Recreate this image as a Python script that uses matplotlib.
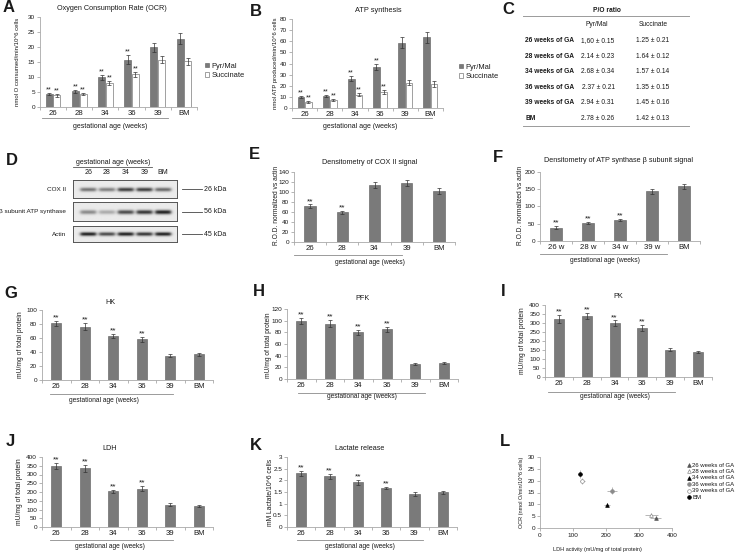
import numpy as np
import matplotlib
matplotlib.use('Agg')
import matplotlib.pyplot as plt
from matplotlib.lines import Line2D
from matplotlib.patches import Patch

plt.rcParams['font.family'] = ['Liberation Sans', 'DejaVu Sans']

# ---------------- data ----------------
ga6 = ['26', '28', '34', '36', '39', 'BM']
sig6 = [1, 1, 1, 1, 0, 0]

ocr_pyr = [4.3, 5.3, 9.9, 15.8, 19.9, 22.8]
ocr_pyr_err = [0.4, 0.5, 0.8, 1.4, 1.4, 1.8]
ocr_suc = [4.0, 4.3, 8.0, 10.9, 15.8, 15.2]
ocr_suc_err = [0.5, 0.4, 0.8, 0.9, 1.2, 1.2]

atp_pyr = [9.9, 10.8, 26.5, 37.0, 58.6, 63.5]
atp_pyr_err = [1.0, 1.0, 2.0, 3.0, 5.0, 5.0]
atp_suc = [5.1, 6.9, 12.0, 14.4, 22.9, 21.4]
atp_suc_err = [0.8, 0.8, 1.5, 1.5, 2.5, 2.5]

po_rows = ['26 weeks of GA', '28 weeks of GA', '34 weeks of GA',
           '36 weeks of GA', '39 weeks of GA', 'BM']
po_pyr = ['1,60 ± 0.15', '2.14 ± 0.23', '2.68 ± 0.34',
          '2.37 ± 0.21', '2.94 ± 0.31', '2.78 ± 0.26']
po_suc = ['1.25 ± 0.21', '1.64 ± 0.12', '1.57 ± 0.14',
          '1.35 ± 0.15', '1.45 ± 0.16', '1.42 ± 0.13']

blot_lanes = ['26', '28', '34', '39', 'BM']
blot_names = ['COX II', 'β subunit ATP synthase', 'Actin']
blot_kda = ['26 kDa', '56 kDa', '45 kDa']
band_cox = [0.55, 0.5, 0.8, 0.8, 0.6]
band_atps = [0.45, 0.3, 0.75, 0.85, 0.95]
band_actin = [0.95, 0.75, 0.95, 0.85, 0.95]

cox_lanes = ['26', '28', '34', '39', 'BM']
cox = [71, 59, 113, 118, 101]
cox_err = [4, 3, 6, 6, 6]
cox_sig = [1, 1, 0, 0, 0]

atps_lanes = ['26 w', '28 w', '34 w', '39 w', 'BM']
atps = [39, 53, 61, 144, 159]
atps_err = [4, 3, 4, 7, 7]
atps_sig = [1, 1, 1, 0, 0]

hk = [81, 76, 63, 58, 35, 37]
hk_err = [4, 5, 3, 3, 2, 2]
pfk = [99, 95, 80, 85, 26, 27]
pfk_err = [5, 6, 4, 4, 1.5, 1.5]
pk = [322, 339, 300, 273, 151, 140]
pk_err = [20, 18, 14, 17, 9, 6]
ldh = [350, 337, 203, 218, 128, 122]
ldh_err = [17, 20, 8, 15, 7, 6]
lac = [2.30, 2.17, 1.91, 1.67, 1.41, 1.49]
lac_err = [0.12, 0.10, 0.10, 0.06, 0.07, 0.07]

l_labels = ['26 weeks of GA', '28 weeks of GA', '34 weeks of GA',
            '36 weeks of GA', '39 weeks of GA', 'BM']

# ---------------- styling ----------------
W, H = 738, 555
BAR = '#7a7a7a'
BAR_EDGE = '#5a5a5a'
AX = '#a8a8a8'
TXT = '#1a1a1a'
ERR = '#333333'

fig = plt.figure(figsize=(W / 100, H / 100), dpi=100)


def px_axes(l, t, r, b):
    return fig.add_axes([l / W, 1 - b / H, (r - l) / W, (b - t) / H])


def ftext(x, y, s, **kw):
    kw.setdefault('color', TXT)
    kw.setdefault('ha', 'center')
    kw.setdefault('va', 'center')
    fig.text(x / W, 1 - y / H, s, **kw)


def fline(x0, x1, y, color='#8a8a8a', lw=0.6):
    fig.add_artist(Line2D([x0 / W, x1 / W], [1 - y / H, 1 - y / H],
                          color=color, lw=lw))


def style_axes(ax, cats, ymax, ystep, labels=None):
    n = len(cats)
    ax.set_xlim(-0.5, n - 0.5)
    ax.set_ylim(0, ymax)
    ticks = np.arange(0, ymax + ystep / 2, ystep)
    ax.set_yticks(ticks)
    if labels is not None:
        ax.set_yticklabels(labels)
    ax.set_xticks(range(n))
    ax.set_xticklabels(cats)
    ax.set_xticks(np.arange(-0.5, n), minor=True)
    ax.tick_params(axis='x', which='major', length=0, labelsize=5.6, pad=2.5,
                   labelcolor=TXT)
    ax.tick_params(axis='x', which='minor', length=2.5, color=AX, width=0.6)
    ax.tick_params(axis='y', length=2, color=AX, width=0.6, labelsize=4.6,
                   pad=1.5, labelcolor=TXT)
    for s in ['top', 'right']:
        ax.spines[s].set_visible(False)
    for s in ['left', 'bottom']:
        ax.spines[s].set_color(AX)
        ax.spines[s].set_linewidth(0.6)


def stars(ax, x, vals, errs, sig, size=6):
    for xi, v, e, s in zip(x, vals, errs, sig):
        if s:
            ax.annotate('**', (xi, v + e), xytext=(0, -0.3),
                        textcoords='offset points', ha='center', va='bottom',
                        fontsize=size, color=TXT)


ekw = dict(ecolor=ERR, elinewidth=0.5, capsize=1.2, capthick=0.5)


def single_bars(box, cats, vals, errs, sig, ymax, ystep, labels=None):
    ax = px_axes(*box)
    x = np.arange(len(cats))
    ax.bar(x, vals, width=0.36, color=BAR, edgecolor=BAR_EDGE, linewidth=0.4,
           yerr=errs, error_kw=ekw)
    stars(ax, x, vals, errs, sig)
    style_axes(ax, cats, ymax, ystep, labels)
    return ax


def paired_bars(box, cats, v1, e1, v2, e2, ymax, ystep, leg_xy):
    ax = px_axes(*box)
    x = np.arange(len(cats))
    ax.bar(x - 0.145, v1, width=0.27, color=BAR, edgecolor=BAR_EDGE,
           linewidth=0.4, yerr=e1, error_kw=ekw)
    ax.bar(x + 0.145, v2, width=0.27, color='white', edgecolor='#7a7a7a',
           linewidth=0.5, yerr=e2, error_kw=ekw)
    stars(ax, x - 0.15, v1, e1, sig6, size=5.2)
    stars(ax, x + 0.15, v2, e2, sig6, size=5.2)
    style_axes(ax, cats, ymax, ystep)
    handles = [Patch(facecolor=BAR, edgecolor=BAR_EDGE, linewidth=0.4),
               Patch(facecolor='white', edgecolor='#7a7a7a', linewidth=0.5)]
    ax.legend(handles, ['Pyr/Mal', 'Succinate'], loc='center left',
              bbox_to_anchor=(leg_xy[0] / W, 1 - leg_xy[1] / H),
              bbox_transform=fig.transFigure, frameon=False, fontsize=5.4,
              handlelength=0.6, handleheight=0.6, handletextpad=0.3,
              labelspacing=0.35, borderpad=0, labelcolor=TXT)
    return ax


# ---------------- A ----------------
paired_bars((40, 17, 197, 107), ga6, ocr_pyr, ocr_pyr_err, ocr_suc, ocr_suc_err,
            30, 5, (201, 71))
ftext(9, 8, 'A', fontsize=12, fontweight='bold')
ftext(112, 8, 'Oxygen Consumption Rate (OCR)', fontsize=5.2)
ftext(18, 62, 'nmol O consumed/min/10^6 cells', fontsize=4.3, rotation=90)
fline(42, 168, 118)
ftext(110, 126, 'gestational age (weeks)', fontsize=5)

# ---------------- B ----------------
paired_bars((292, 19, 443, 108), ga6, atp_pyr, atp_pyr_err, atp_suc, atp_suc_err,
            80, 10, (455, 72))
ftext(256, 12, 'B', fontsize=12, fontweight='bold')
ftext(378, 10, 'ATP synthesis', fontsize=5.3)
ftext(276, 63, 'nmol ATP produced/min/10^6 cells', fontsize=4.3, rotation=90)
fline(292, 432, 118)
ftext(360, 127, 'gestational age (weeks)', fontsize=5)

# ---------------- C (table) ----------------
ftext(508, 10, 'C', fontsize=12, fontweight='bold')
ftext(607, 10, 'P/O ratio', fontsize=4.8, fontweight='bold')
fline(523, 689, 16, color='#9a9a9a', lw=0.7)
ftext(597, 25, 'Pyr/Mal', fontsize=4.8)
ftext(653, 25, 'Succinate', fontsize=4.8)
for i, (lab, a, b) in enumerate(zip(po_rows, po_pyr, po_suc)):
    yy = 41 + i * 15.4
    ftext(525, yy, lab, fontsize=4.8, fontweight='bold', ha='left')
    ftext(598, yy, a, fontsize=4.8)
    ftext(653, yy, b, fontsize=4.8)
fline(523, 689, 126, color='#9a9a9a', lw=0.7)

# ---------------- D (western blot) ----------------
ftext(12, 161, 'D', fontsize=12, fontweight='bold')
ftext(113, 163, 'gestational age (weeks)', fontsize=5)
fline(73, 152, 167, color='#555555', lw=0.6)
lane_pos = np.linspace(0.145, 0.865, len(blot_lanes))
blot_boxes = [(73, 180, 177, 198), (73, 202, 177, 221), (73, 226, 177, 242)]
bands = [band_cox, band_atps, band_actin]
for k, (bx, name, kda, inten) in enumerate(zip(blot_boxes, blot_names,
                                               blot_kda, bands)):
    ax = px_axes(*bx)
    ny, nx = 40, 220
    yy, xx = np.mgrid[0:ny, 0:nx]
    img = np.full((ny, nx), 0.92)
    for p, v in zip(lane_pos, inten):
        cx = p * nx
        prof_x = 1 / (1 + np.exp((np.abs(xx - cx) - 0.075 * nx) / 2.0))
        prof_y = np.exp(-((yy - 0.52 * ny) / (0.11 * ny)) ** 2)
        img = img - 0.85 * v * prof_x * prof_y
    ax.imshow(np.clip(img, 0, 1), cmap='gray', vmin=0, vmax=1,
              aspect='auto', extent=[0, 1, 0, 1], interpolation='bilinear')
    ax.set_xticks([])
    ax.set_yticks([])
    for s in ax.spines.values():
        s.set_color('#555555')
        s.set_linewidth(0.7)
    ym = (bx[1] + bx[3]) / 2
    ftext(66, ym, name, fontsize=4.6, ha='right')
    fline(182, 202, ym, color='#444444', lw=0.6)
    ftext(204, ym, kda, fontsize=5, ha='left')
    if k == 0:
        for p, lab in zip(lane_pos, blot_lanes):
            ftext(bx[0] + p * (bx[2] - bx[0]), 173, lab, fontsize=5)

# ---------------- E ----------------
single_bars((294, 172, 455, 242), cox_lanes, cox, cox_err, cox_sig, 140, 20)
ftext(254, 154, 'E', fontsize=12, fontweight='bold')
ftext(370, 163, 'Densitometry of COX II signal', fontsize=5.2)
ftext(276, 205, 'R.O.D. normalized vs actin', fontsize=4.8, rotation=90)
fline(294, 402, 255)
ftext(370, 262, 'gestational age (weeks)', fontsize=4.8)

# ---------------- F ----------------
single_bars((540, 172, 700, 241), atps_lanes, atps, atps_err, atps_sig, 200, 50)
ftext(498, 158, 'F', fontsize=12, fontweight='bold')
ftext(618, 161, 'Densitometry of ATP synthase β subunit signal', fontsize=5.2)
ftext(521, 205, 'R.O.D. normalized vs actin', fontsize=4.8, rotation=90)
fline(540, 667, 254)
ftext(605, 260, 'gestational age (weeks)', fontsize=4.8)

# ---------------- G ----------------
single_bars((42, 310, 213, 380), ga6, hk, hk_err, sig6, 100, 20)
ftext(11, 293, 'G', fontsize=12, fontweight='bold')
ftext(110, 302, 'HK', fontsize=5.2)
ftext(21, 345, 'mU/mg of total protein', fontsize=4.9, rotation=90)
fline(50, 173, 394)
ftext(104, 400, 'gestational age (weeks)', fontsize=4.8)

# ---------------- H ----------------
single_bars((287, 309, 458, 379), ga6, pfk, pfk_err, sig6, 120, 20)
ftext(259, 291, 'H', fontsize=12, fontweight='bold')
ftext(363, 299, 'PFK', fontsize=5.2)
ftext(268, 345, 'mU/mg of total protein', fontsize=4.8, rotation=90)
fline(298, 425, 393)
ftext(362, 397, 'gestational age (weeks)', fontsize=4.8)

# ---------------- I ----------------
single_bars((545, 305, 712, 377), ga6, pk, pk_err, sig6, 400, 50)
ftext(503, 291, 'I', fontsize=12, fontweight='bold')
ftext(618, 297, 'PK', fontsize=5.2)
ftext(522, 341, 'mU/mg of total protein', fontsize=4.9, rotation=90)
fline(548, 675, 392)
ftext(615, 397, 'gestational age (weeks)', fontsize=4.8)

# ---------------- J ----------------
single_bars((42, 457, 213, 527), ga6, ldh, ldh_err, sig6, 400, 50)
ftext(10, 441, 'J', fontsize=12, fontweight='bold')
ftext(110, 448, 'LDH', fontsize=5.2)
ftext(20, 492, 'mU/mg of total protein', fontsize=4.9, rotation=90)
fline(50, 173, 540)
ftext(110, 546, 'gestational age (weeks)', fontsize=4.8)

# ---------------- K ----------------
single_bars((287, 457, 457, 527), ga6, lac, lac_err, sig6, 3, 0.5,
            ['0', '0.5', '1', '1.5', '2', '2.5', '3'])
ftext(256, 445, 'K', fontsize=12, fontweight='bold')
ftext(360, 448, 'Lactate release', fontsize=5.2)
ftext(270, 492, 'mM Lactate/10^6 cells', fontsize=4.9, rotation=90)
fline(297, 423, 540)
ftext(360, 547, 'gestational age (weeks)', fontsize=4.8)

# ---------------- L ----------------
axl = px_axes(540, 457, 672, 528)
mk = ['^', '^', '^', 'o', 'o', 'o']
fc = ['#555555', 'white', 'black', '#8a8a8a', 'white', 'black']
ec = ['#555555', '#8a8a8a', 'black', '#8a8a8a', '#8a8a8a', 'black']
handles = []
for i in range(len(l_labels)):
    axl.errorbar(ldh[i], ocr_pyr[i], xerr=ldh_err[i], yerr=ocr_pyr_err[i],
                 fmt='none', ecolor='#9a9a9a', elinewidth=0.5, capsize=0)
    h = axl.scatter(ldh[i], ocr_pyr[i], marker=mk[i], s=7, facecolor=fc[i],
                    edgecolor=ec[i], linewidth=0.5, zorder=3)
    handles.append(h)
axl.set_xlim(0, 400)
axl.set_ylim(0, 30)
axl.set_xticks([0, 100, 200, 300, 400])
axl.set_yticks(np.arange(0, 31, 5))
axl.tick_params(axis='x', length=2, color=AX, width=0.6, labelsize=4.6,
                pad=1.5, labelcolor=TXT)
axl.tick_params(axis='y', length=2, color=AX, width=0.6, labelsize=4.6,
                pad=1.5, labelcolor=TXT)
for s in ['top', 'right']:
    axl.spines[s].set_visible(False)
for s in ['left', 'bottom']:
    axl.spines[s].set_color(AX)
    axl.spines[s].set_linewidth(0.6)
axl.legend(handles, l_labels, loc='center left',
           bbox_to_anchor=(684 / W, 1 - 481 / H), bbox_transform=fig.transFigure,
           frameon=False, fontsize=4.3, handlelength=0.6, handletextpad=0.3,
           labelspacing=0.2, borderpad=0, scatterpoints=1, labelcolor=TXT)
ftext(505, 442, 'L', fontsize=12, fontweight='bold')
ftext(522, 492, 'OCR (nmol O/min/10^6 cells)', fontsize=4, rotation=90)
ftext(597, 550, 'LDH activity (mU/mg of total protein)', fontsize=4)

fig.savefig('out.png', dpi=100)
